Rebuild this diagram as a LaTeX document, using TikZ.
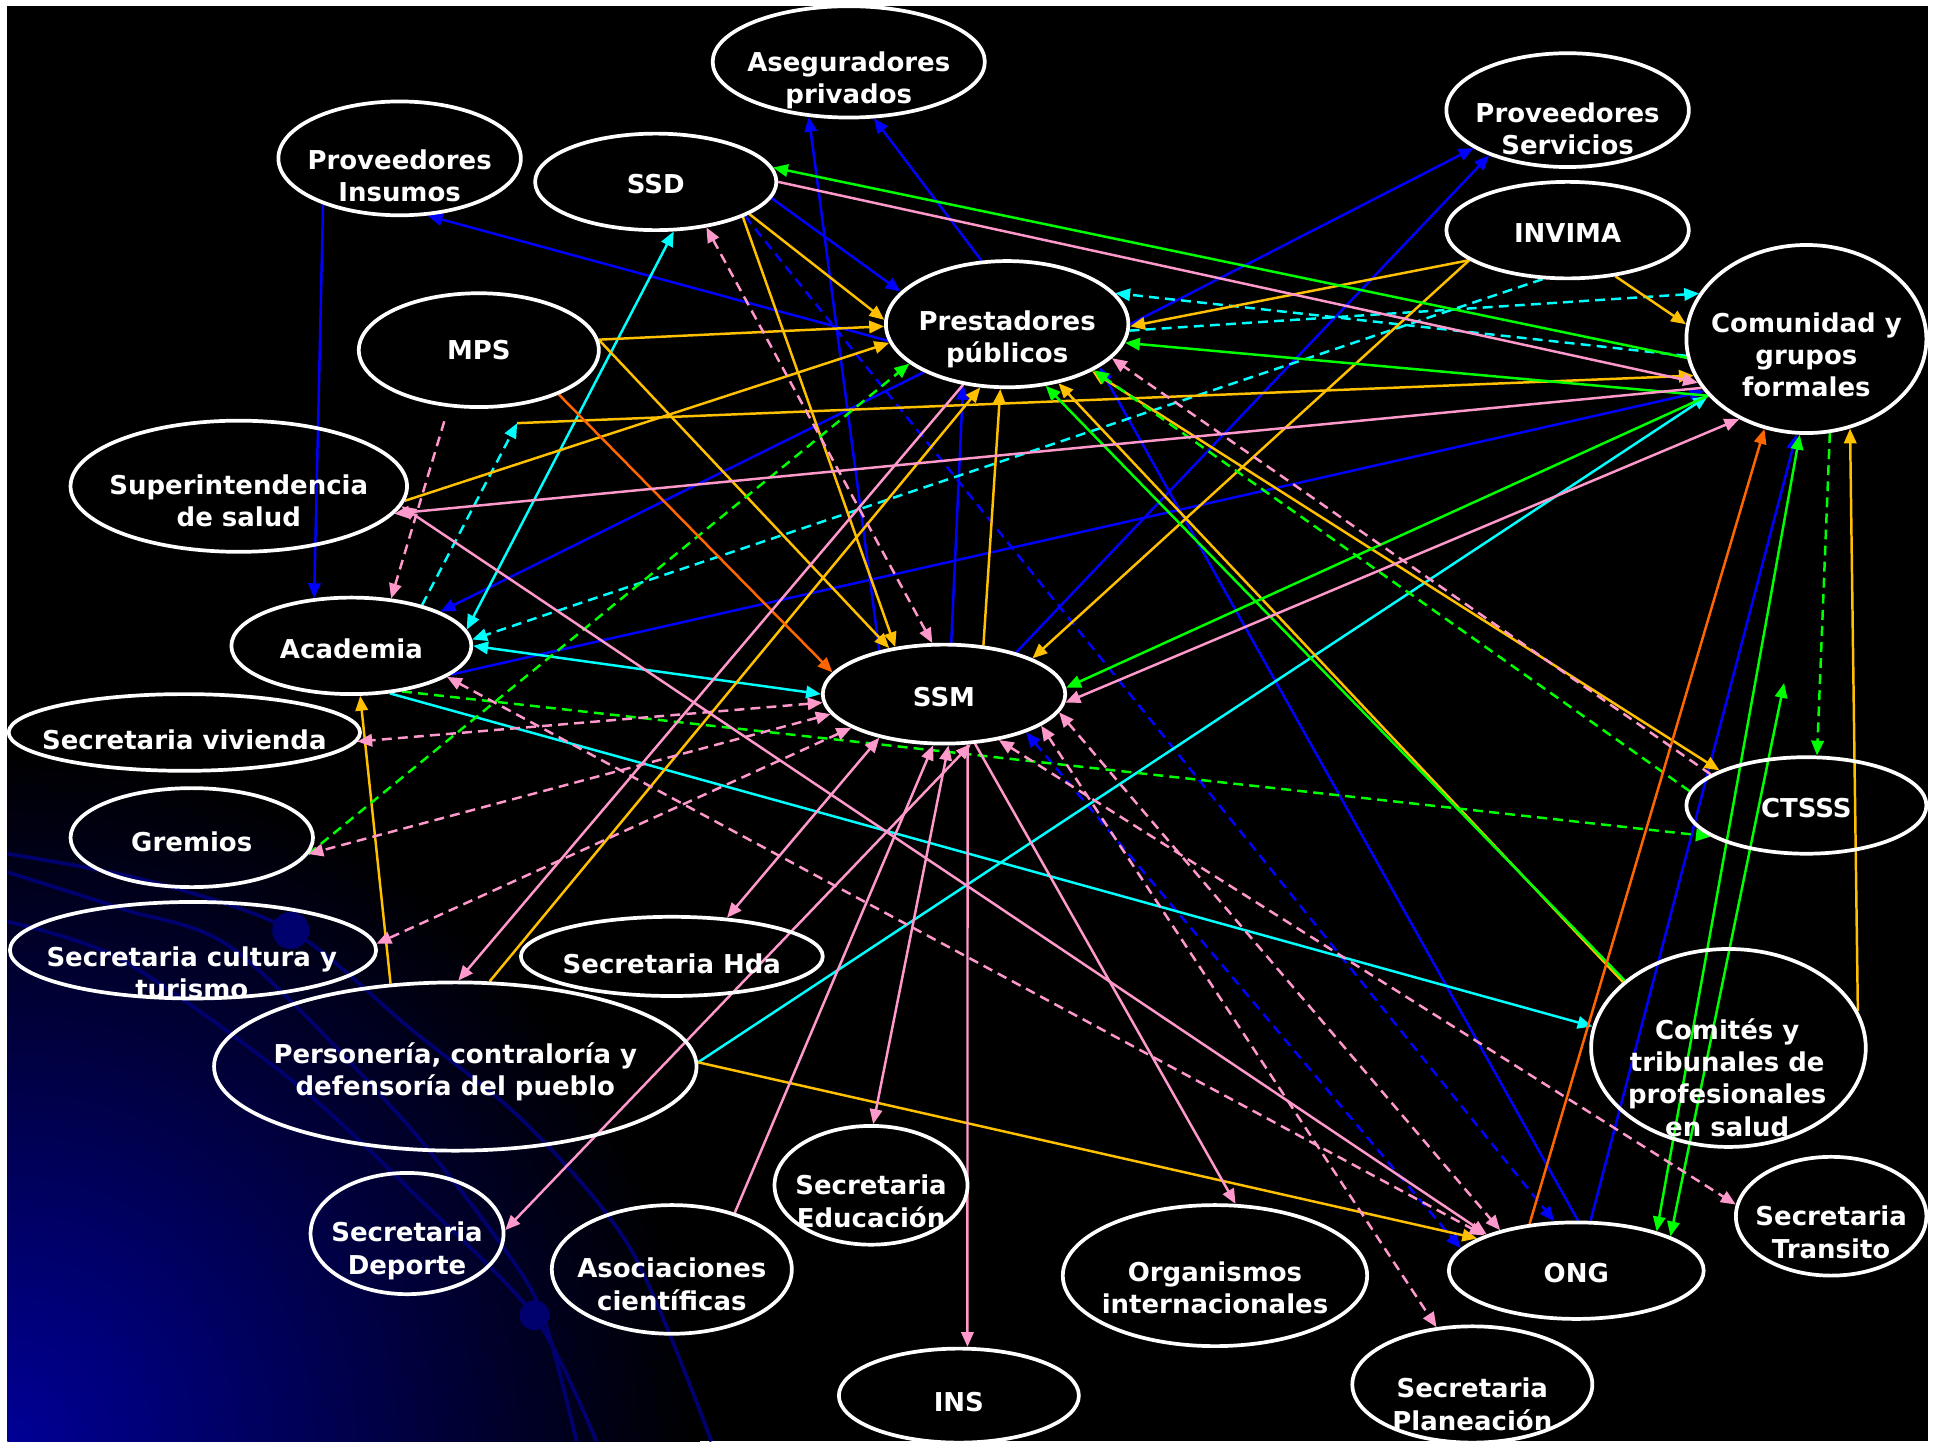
\documentclass[tikz,border=0pt]{standalone}
\usepackage{fontspec}
\newfontfamily\lblfont{DejaVu Sans}
\usetikzlibrary{shapes.geometric,arrows.meta}
\definecolor{cblue}{RGB}{0,0,255}
\definecolor{ccyan}{RGB}{0,255,255}
\definecolor{cyel}{RGB}{255,192,0}
\definecolor{cgreen}{RGB}{0,255,0}
\definecolor{corange}{RGB}{255,102,0}
\definecolor{cpink}{RGB}{255,153,204}
\definecolor{cnavy}{RGB}{0,0,110}
\definecolor{cdeep}{RGB}{0,0,150}
\pgfdeclarelayer{bgl}
\pgfdeclarelayer{lines}
\pgfsetlayers{bgl,lines,main}
\tikzset{
  ell/.style={ellipse, draw=white, line width=3pt, inner sep=0pt},
  lbl/.style={text=white, font=\lblfont\bfseries\fontsize{21}{26}\selectfont, align=center, inner sep=0pt},
  cn/.style={line width=2pt},
  ar/.style={-{Triangle[length=12pt,width=10pt]}},
  ar2/.style={{Triangle[length=12pt,width=10pt]}-{Triangle[length=12pt,width=10pt]}},
  dsh/.style={dash pattern=on 8pt off 5pt},
  swoosh/.style={cnavy, line width=3pt}
}
\begin{document}
\begin{tikzpicture}[x=1pt,y=-1pt]
\useasboundingbox (0,0) rectangle (1568,1165);
\begin{pgfonlayer}{bgl}
  \fill[white] (0,0) rectangle (1568,1165);
  \fill[black] (6,5) rectangle (1558,1165);
  \begin{scope}
    \clip (6,5) rectangle (1558,1165);
    \shade[inner color=cdeep, outer color=black] (6,1165) circle (560);
    \draw[swoosh] plot[smooth] coordinates {(6,690) (120,712) (235,752) (330,830) (425,908) (510,1010) (575,1165)};
    \draw[swoosh] plot[smooth] coordinates {(6,705) (100,735) (190,768) (323,902) (408,1010) (439,1064) (466,1165)};
    \draw[swoosh] plot[smooth] coordinates {(6,745) (99,776) (238,875) (340,970) (432,1064) (482,1165)};
    \fill[cnavy] (235,752) circle (15);
    \fill[cnavy] (432,1063) circle (12);
  \end{scope}
\end{pgfonlayer}

% ellipses
\node[ell, minimum width=220pt, minimum height=90pt]  (asg)  at (686,50) {};
\node[ell, minimum width=196pt, minimum height=92pt]  (pins) at (323,128) {};
\node[ell, minimum width=195pt, minimum height=78pt]  (ssd)  at (530,147) {};
\node[ell, minimum width=196pt, minimum height=92pt]  (pser) at (1267,89) {};
\node[ell, minimum width=196pt, minimum height=78pt]  (inv)  at (1267,186) {};
\node[ell, minimum width=194pt, minimum height=152pt] (com)  at (1460,274) {};
\node[ell, minimum width=196pt, minimum height=102pt] (pre)  at (814,262) {};
\node[ell, minimum width=194pt, minimum height=92pt]  (mps)  at (387,283) {};
\node[ell, minimum width=272pt, minimum height=106pt] (sup)  at (193,393) {};
\node[ell, minimum width=194pt, minimum height=78pt]  (aca)  at (284,522) {};
\node[ell, minimum width=196pt, minimum height=80pt]  (ssm)  at (763,561) {};
\node[ell, minimum width=284pt, minimum height=62pt]  (viv)  at (149,592) {};
\node[ell, minimum width=196pt, minimum height=80pt]  (gre)  at (155,677) {};
\node[ell, minimum width=194pt, minimum height=78pt]  (cts)  at (1460,651) {};
\node[ell, minimum width=296pt, minimum height=78pt]  (cul)  at (156,768) {};
\node[ell, minimum width=244pt, minimum height=64pt]  (hda)  at (543,773) {};
\node[ell, minimum width=390pt, minimum height=136pt] (per)  at (368,862) {};
\node[ell, minimum width=222pt, minimum height=160pt] (comi) at (1397,847) {};
\node[ell, minimum width=156pt, minimum height=96pt]  (edu)  at (704,958) {};
\node[ell, minimum width=156pt, minimum height=98pt]  (dep)  at (329,997) {};
\node[ell, minimum width=194pt, minimum height=104pt] (aso)  at (543,1026) {};
\node[ell, minimum width=246pt, minimum height=114pt] (org)  at (982,1031) {};
\node[ell, minimum width=154pt, minimum height=96pt]  (tra)  at (1480,983) {};
\node[ell, minimum width=206pt, minimum height=78pt]  (ong)  at (1274,1027) {};
\node[ell, minimum width=194pt, minimum height=76pt]  (ins)  at (775,1128) {};
\node[ell, minimum width=194pt, minimum height=94pt]  (pla)  at (1190,1119) {};

% texts
\node[lbl] (t-asg)  at (686,65)   {Aseguradores\\privados};
\node[lbl] (t-pins) at (323,142)  {Proveedores\\Insumos};
\node[lbl] (t-ssd)  at (530,149)  {SSD};
\node[lbl] (t-pser) at (1267,104) {Proveedores\\Servicios};
\node[lbl] (t-inv)  at (1267,188) {INVIMA};
\node[lbl] (t-com)  at (1460,287) {Comunidad y\\grupos\\formales};
\node[lbl] (t-pre)  at (814,274)  {Prestadores\\públicos};
\node[lbl] (t-mps)  at (387,283)  {MPS};
\node[lbl] (t-sup)  at (193,405)  {Superintendencia\\de salud};
\node[lbl] (t-aca)  at (284,524)  {Academia};
\node[lbl] (t-ssm)  at (763,563)  {SSM};
\node[lbl] (t-viv)  at (149,598)  {Secretaria vivienda};
\node[lbl] (t-gre)  at (155,680)  {Gremios};
\node[lbl] (t-cts)  at (1460,653) {CTSSS};
\node[lbl] (t-cul)  at (155,786)  {Secretaria cultura y\\turismo};
\node[lbl] (t-hda)  at (543,779)  {Secretaria Hda};
\node[lbl] (t-per)  at (368,866)  {Personería, contraloría y\\defensoría del pueblo};
\node[lbl] (t-comi) at (1396,871) {Comités y\\tribunales de\\profesionales\\en salud};
\node[lbl] (t-edu)  at (704,971)  {Secretaria\\Educación};
\node[lbl] (t-dep)  at (329,1011) {Secretaria\\Deporte};
\node[lbl] (t-aso)  at (543,1038) {Asociaciones\\científicas};
\node[lbl] (t-org)  at (982,1041) {Organismos\\internacionales};
\node[lbl] (t-tra)  at (1480,996) {Secretaria\\Transito};
\node[lbl] (t-ong)  at (1274,1029) {ONG};
\node[lbl] (t-ins)  at (775,1133) {INS};
\node[lbl] (t-pla)  at (1190,1135) {Secretaria\\Planeación};

\coordinate (p1) at (418,342);
\coordinate (q1) at (1442,552);

\begin{pgfonlayer}{lines}
% blue
\draw[cn,cblue,ar] (pins.211) -- (aca.128);
\draw[cn,cblue,ar] (pre.188) -- (pins.296);
\draw[cn,cblue,ar] (ssd.352) -- (pre.163);
\draw[cn,cblue,ar] (ssm.146) -- (asg.234);
\draw[cn,cblue,ar] (pre.112) -- (asg.294);
\draw[cn,cblue,ar] (pre.0) -- (pser.202);
\draw[cn,cblue,ar] (ssm.30) -- (pser.210);
\draw[cn,cblue,ar] (pre.210) -- (aca.21);
\draw[cn,cblue,ar] (aca.344) -- (com.207);
\draw[cn,cblue,ar] (ssm.82) -- (pre.234);
\draw[cn,cblue,ar] (ong.88) -- (pre.335);
\draw[cn,cblue,ar] (ong.74) -- (com.264);
\draw[cn,cblue,dsh,ar] (ssd.339) -- (ong.114);
\draw[cn,cblue,dsh,ar2] (ssm.335) -- (ong.169);
% cyan
\draw[cn,ccyan,ar2] (ssd.290) -- (aca.8);
\draw[cn,ccyan,ar2] (aca.0) -- (ssm.180);
\draw[cn,ccyan,ar] (aca.309) -- (comi.171);
\draw[cn,ccyan,ar] (per.1) -- (com.210);
\draw[cn,ccyan,dsh,ar] (com.188) -- (pre.16);
\draw[cn,ccyan,dsh,ar] (pre.357) -- (com.157);
\draw[cn,ccyan,dsh,ar] (inv.243) -- (aca.3);
\draw[cn,ccyan,dsh,ar] (aca.30) -- (p1);
% yellow
\draw[cn,cyel,ar] (p1) -- (com.198);
\draw[cn,cyel,ar] (mps.5) -- (pre.181);
\draw[cn,cyel,ar] (mps.5) -- (ssm.140);
\draw[cn,cyel,ar] (ssd.338) -- (ssm.136);
\draw[cn,cyel,ar] (ssd.341) -- (pre.178);
\draw[cn,cyel,ar] (sup.355) -- (pre.189);
\draw[cn,cyel,ar] (inv.197) -- (pre.359);
\draw[cn,cyel,ar] (inv.197) -- (ssm.22);
\draw[cn,cyel,ar] (inv.316) -- (com.173);
\draw[cn,cyel,ar2] (pre.331) -- (cts.158);
\draw[cn,cyel,ar] (ssm.51) -- (pre.264);
\draw[cn,cyel,ar] (per.68) -- (pre.247);
\draw[cn,cyel,ar] (comi.148) -- (pre.311);
\draw[cn,cyel,ar] (comi.16) -- (com.296);
\draw[cn,cyel,ar] (per.1) -- (ong.162);
\draw[cn,cyel,ar] (per.128) -- (aca.280);
% green
\draw[cn,cgreen,ar] (com.189) -- (ssd.7);
\draw[cn,cgreen,ar] (com.210) -- (pre.351);
\draw[cn,cgreen,ar] (com.210) -- (ssm.3);
\draw[cn,cgreen,ar] (comi.147) -- (pre.302);
\draw[cn,cgreen,ar2] (com.266) -- (ong.26);
\draw[cn,cgreen,ar2] (q1) -- (ong.20);
\draw[cn,cgreen,dsh,ar] (com.284) -- (cts.78);
\draw[cn,cgreen,dsh,ar] (aca.318) -- (cts.198);
\draw[cn,cgreen,dsh,ar] (cts.173) -- (pre.332);
\draw[cn,cgreen,dsh,ar] (gre.352) -- (pre.202);
% orange
\draw[cn,corange,ar] (mps.331) -- (ssm.169);
\draw[cn,corange,ar] (ong.135) -- (com.245);
% pink
\draw[cn,cpink,ar] (ssd.0) -- (com.202);
\draw[cn,cpink,ar] (com.205) -- (sup.350);
\draw[cn,cpink,ar2] (com.230) -- (ssm.356);
\draw[cn,cpink,ar2] (sup.353) -- (ong.158);
\draw[cn,cpink,ar2] (ssm.214) -- (hda.35);
\draw[cn,cpink,ar] (pre.234) -- (per.88);
\draw[cn,cpink,ar2] (ssm.298) -- (dep.2);
\draw[cn,cpink,ar] (ssm.295) -- (ins.80);
\draw[cn,cpink,ar2] (ssm.275) -- (edu.88);
\draw[cn,cpink,ar] (aso.42) -- (ssm.258);
\draw[cn,cpink,ar] (ssm.302) -- (org.74);
\draw[cn,cpink,dsh,ar2] (ssd.318) -- (ssm.103);
\draw[cn,cpink,dsh,ar,shorten <=12pt] (mps.242) -- (aca.50);
\draw[cn,cpink,dsh,ar2] (ssm.184) -- (viv.357);
\draw[cn,cpink,dsh,ar2] (ssm.190) -- (gre.352);
\draw[cn,cpink,dsh,ar2] (ssm.200) -- (cul.2);
\draw[cn,cpink,dsh,ar2] (aca.342) -- (ong.159);
\draw[cn,cpink,dsh,ar2] (ssm.320) -- (tra.173);
\draw[cn,cpink,dsh,ar2] (ssm.342) -- (pla.122);
\draw[cn,cpink,dsh,ar2] (ssm.351) -- (ong.152);
\draw[cn,cpink,dsh,ar] (cts.162) -- (pre.342);
\end{pgfonlayer}
\end{tikzpicture}
\end{document}
